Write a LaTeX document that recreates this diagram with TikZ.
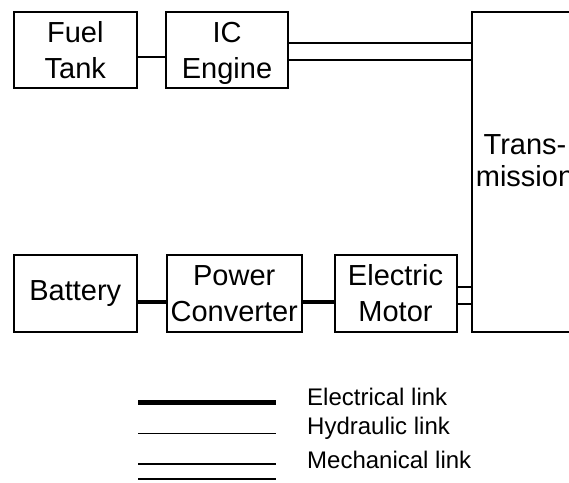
\documentclass[tikz,border=0pt]{standalone}
\usepackage{fontspec}
\setmainfont{Liberation Sans}
\begin{document}
\begin{tikzpicture}[x=1pt,y=-1pt,
  blk/.style={draw,line width=2pt,inner sep=0pt,align=center,
    font=\fontsize{29}{36}\selectfont},
  hyd/.style={line width=1.6pt},
  mech/.style={line width=1.6pt},
  elec/.style={line width=4.2pt},
  legtxt/.style={anchor=base west,inner sep=0pt,font=\fontsize{24}{28}\selectfont}]
\useasboundingbox (0,0) rectangle (569,482);
\clip (0,0) rectangle (569,482);
% blocks
\node[blk,minimum width=123.5pt,minimum height=76pt] (ft) at (75.25,50) {Fuel\\Tank};
\node[blk,minimum width=122pt,minimum height=76pt,text depth=0pt] (ice) at (227,50) {IC\\Engine};
\node[blk,minimum width=123.5pt,minimum height=77pt] (bat) at (75.25,293.5) {Battery};
\node[blk,minimum width=135.5pt,minimum height=77pt] (pc) at (234.25,293.5) {Power\\Converter};
\node[blk,minimum width=122pt,minimum height=77pt] (em) at (395.5,293.5) {Electric\\Motor};
\node[blk,minimum width=106pt,minimum height=320pt,text depth=22.8pt,
  font=\fontsize{29}{32}\selectfont] (trans) at (525,172) {Trans-\\mission};
% connectors
\draw[hyd] (ft.east |- 0,57) -- (ice.west |- 0,57);
\draw[mech] (ice.east |- 0,43) -- (trans.west |- 0,43);
\draw[mech] (ice.east |- 0,60) -- (trans.west |- 0,60);
\draw[elec] (bat.east |- 0,302) -- (pc.west |- 0,302);
\draw[elec] (pc.east |- 0,302) -- (em.west |- 0,302);
\draw[mech] (em.east |- 0,287) -- (trans.west |- 0,287);
\draw[mech] (em.east |- 0,304) -- (trans.west |- 0,304);
% legend
\coordinate (e1) at (138,402.5); \coordinate (e2) at (276,402.5);
\coordinate (h1) at (138,433.3); \coordinate (h2) at (276,433.3);
\coordinate (m1) at (138,463.7); \coordinate (m2) at (276,463.7);
\coordinate (n1) at (138,479); \coordinate (n2) at (276,479);
\draw[elec] (e1) -- (e2);
\draw[hyd] (h1) -- (h2);
\draw[mech] (m1) -- (m2);
\draw[mech] (n1) -- (n2);
\node[legtxt] (le) at (307,405) {Electrical link};
\node[legtxt] (lh) at (307,434) {Hydraulic link};
\node[legtxt] (lm) at (307,468) {Mechanical link};
\end{tikzpicture}
\end{document}
